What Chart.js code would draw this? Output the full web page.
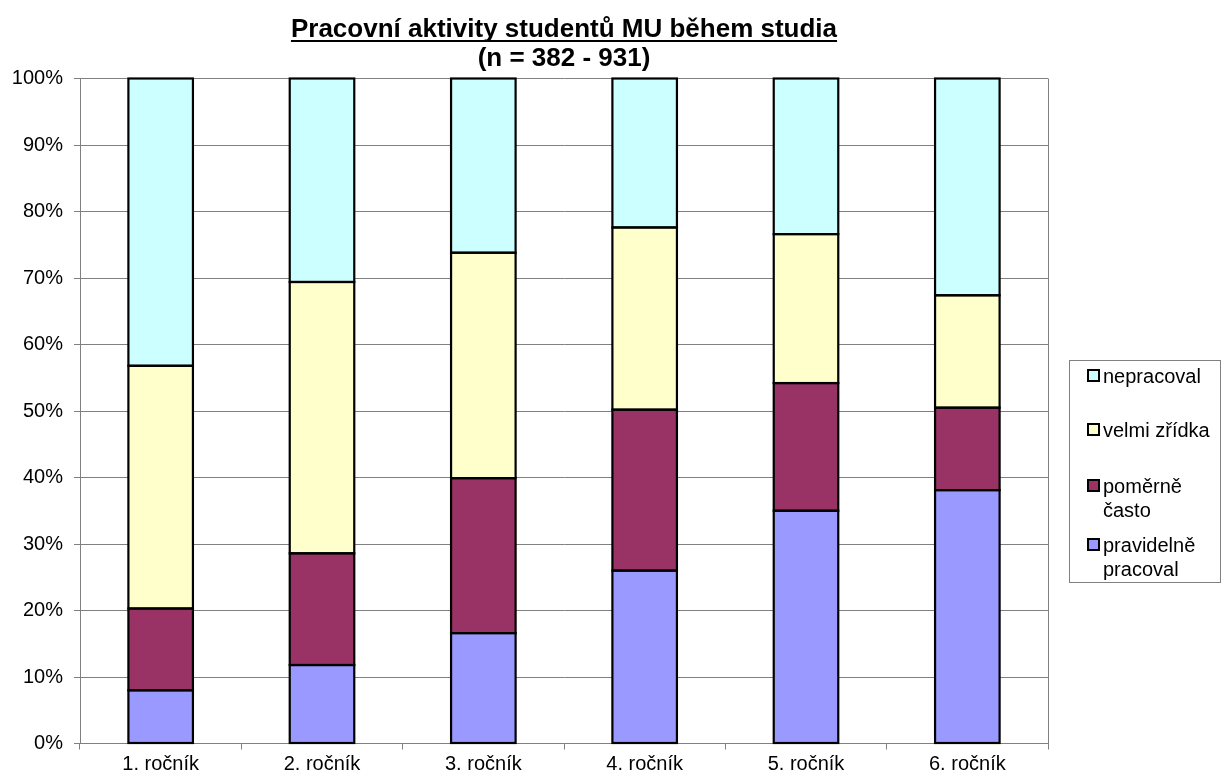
<!DOCTYPE html>
<html>
<head>
<meta charset="utf-8">
<script src="https://cdn.jsdelivr.net/npm/chart.js@4"></script>
<style>
  html, body { margin: 0; padding: 0; background: #fff; }
  #wrap { width: 1224px; height: 778px; }
</style>
</head>
<body>
<div id="wrap"><canvas id="chart" width="1224" height="778"></canvas></div>
<script>
const categories = ["1. ročník", "2. ročník", "3. ročník", "4. ročník", "5. ročník", "6. ročník"];
const seriesNames = ["pravidelně pracoval", "poměrně často", "velmi zřídka", "nepracoval"];
const legendLines = [["pravidelně", "pracoval"], ["poměrně", "často"], ["velmi zřídka"], ["nepracoval"]];
const pravidelne = [8.0, 11.8, 16.6, 26.0, 35.0, 38.1];
const pomerneCasto = [12.3, 16.8, 23.3, 24.2, 19.2, 12.4];
const velmiZridka = [36.5, 40.8, 33.9, 27.4, 22.4, 16.9];
const nepracoval = [43.2, 30.6, 26.2, 22.4, 23.4, 32.6];
const colors = ["#9999FF", "#993366", "#FFFFCC", "#CCFFFF"];
const titleLines = ["Pracovní aktivity studentů MU během studia", "(n = 382 - 931)"];

const FONT = "Liberation Sans, Arial, sans-serif";

// black outline on every bar segment, centred on its edges (like Excel)
const outlinePlugin = {
  id: "outline",
  afterDatasetsDraw(chart) {
    const ctx = chart.ctx;
    ctx.save();
    ctx.strokeStyle = "#000";
    ctx.lineWidth = 2.2;
    chart.data.datasets.forEach((ds, i) => {
      chart.getDatasetMeta(i).data.forEach((bar) => {
        const top = Math.min(bar.y, bar.base);
        const h = Math.abs(bar.base - bar.y);
        ctx.strokeRect(bar.x - bar.width / 2, top, bar.width, h);
      });
    });
    ctx.restore();
  }
};

// title (underlined first line) + plot border + legend box on the right
const decorPlugin = {
  id: "decor",
  afterDraw(chart) {
    const ctx = chart.ctx;
    const area = chart.chartArea;
    ctx.save();

    // plot border (right side)
    ctx.strokeStyle = "#808080";
    ctx.lineWidth = 1;
    ctx.beginPath();
    ctx.moveTo(area.right + 0.5, area.top);
    ctx.lineTo(area.right + 0.5, area.bottom);
    ctx.stroke();

    // title
    const cx = (area.left + area.right) / 2;
    ctx.fillStyle = "#000";
    ctx.font = "bold 26px " + FONT;
    ctx.textAlign = "center";
    ctx.textBaseline = "alphabetic";
    ctx.fillText(titleLines[0], cx, 37);
    const w = ctx.measureText(titleLines[0]).width;
    ctx.fillRect(cx - w / 2, 40, w, 2);
    ctx.fillText(titleLines[1], cx, 66);

    // legend
    const bx = 1069, by = 360, bw = 151, bh = 222;
    ctx.strokeStyle = "#808080";
    ctx.lineWidth = 1;
    ctx.strokeRect(bx + 0.5, by + 0.5, bw, bh);
    const rowY = [376, 430, 486, 545];
    ctx.font = "20px " + FONT;
    ctx.textAlign = "left";
    ctx.textBaseline = "middle";
    for (let i = 0; i < 4; i++) {
      const ds = chart.data.datasets[3 - i];
      const y = rowY[i];
      ctx.fillStyle = ds.backgroundColor;
      ctx.fillRect(1088, y - 6, 11, 11);
      ctx.strokeStyle = "#000";
      ctx.lineWidth = 2;
      ctx.strokeRect(1088, y - 6, 11, 11);
      ctx.fillStyle = "#000";
      const lines = legendLines[3 - i];
      lines.forEach((t, k) => ctx.fillText(t, 1103, y + 1 + k * 24));
    }
    ctx.restore();
  }
};

const datasetValues = [pravidelne, pomerneCasto, velmiZridka, nepracoval];

new Chart(document.getElementById("chart").getContext("2d"), {
  type: "bar",
  data: {
    labels: categories,
    datasets: datasetValues.map((vals, i) => ({
      label: seriesNames[i],
      data: vals,
      backgroundColor: colors[i],
      borderWidth: 0,
      barPercentage: 0.4,
      categoryPercentage: 1.0,
    })),
  },
  options: {
    responsive: false,
    animation: false,
    layout: { padding: { top: 78.5, right: 176, left: 0, bottom: 0 } },
    plugins: {
      legend: { display: false },
      title: { display: false },
      tooltip: { enabled: false },
    },
    scales: {
      x: {
        stacked: true,
        grid: { drawOnChartArea: false, drawTicks: true, tickLength: 6, color: "#808080", offset: true },
        border: { display: true, color: "#808080", width: 1 },
        ticks: { color: "#000", font: { family: FONT, size: 20 }, padding: 3, maxRotation: 0 },
        afterFit: (scale) => { scale.height = 34.5; },
      },
      y: {
        stacked: true,
        min: 0,
        max: 100,
        grid: { color: "#808080", tickLength: 6, drawTicks: true },
        border: { display: true, color: "#808080", width: 1 },
        ticks: {
          stepSize: 10,
          color: "#000",
          font: { family: FONT, size: 20 },
          padding: 11,
          callback: (v) => v + "%",
        },
        afterFit: (scale) => { scale.width = 80; },
      },
    },
  },
  plugins: [outlinePlugin, decorPlugin],
});
</script>
</body>
</html>
